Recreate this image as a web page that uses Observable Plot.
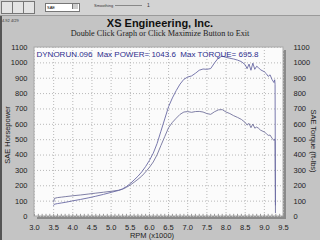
<!DOCTYPE html>
<html>
<head>
<meta charset="utf-8">
<script src="https://cdn.jsdelivr.net/npm/d3@7"></script>
<script src="https://cdn.jsdelivr.net/npm/@observablehq/plot@0.6"></script>
<style>
  html, body { margin:0; padding:0; }
  body { width:320px; height:240px; position:relative; overflow:hidden; background:#c4c4c4;
         font-family:"Liberation Sans", Arial, sans-serif; }
  .abs { position:absolute; white-space:nowrap; }
  #toolbar { left:0; top:0; width:320px; height:15px; background:#d3d3d3; border-bottom:1px solid #9a9a9a; }
  .btn { position:absolute; top:1px; width:10px; height:11px; background:#e4e4e4; border:1px solid #777; }
  #leftedge { left:0; top:16px; width:2px; height:224px; background:#555; }
  #chart { left:0; top:0; }
</style>
</head>
<body>
<div id="toolbar" class="abs">
  <div class="btn" style="left:1px"></div>
  <div class="btn" style="left:12px"></div>
  <div class="btn" style="left:23px"></div>
  <div class="abs" style="left:45px;top:3px;width:32px;height:7px;background:#fff;border:1px solid #777;font-size:4px;line-height:7px;padding-left:1px">SAE</div>
  <div class="abs" style="left:72px;top:4px;width:5px;height:5px;background:#ccc;border-left:1px solid #777"></div>
  <div class="abs" style="left:94px;top:3px;font-size:4px;color:#333">Smoothing</div>
  <div class="abs" style="left:115px;top:5px;width:27px;height:1px;background:#888"></div>
  <div class="abs" style="left:147px;top:2px;font-size:5px;color:#333">1</div>
</div>
<div id="leftedge" class="abs"></div>
<div class="abs" style="left:2px;top:18px;font-size:4px;color:#333">4.92 4/29</div>
<div class="abs" style="left:0;top:17px;width:320px;text-align:center;font-size:11px;font-weight:bold;color:#111">XS Engineering, Inc.</div>
<div class="abs" style="left:0;top:29px;width:320px;text-align:center;font-size:8.2px;font-family:'Liberation Serif','Times New Roman',serif;color:#222">Double Click Graph or Click Maximize Button to Exit</div>
<div id="chart" class="abs"></div>
<div class="abs" style="left:7px;top:135px;transform:translate(-50%,-50%) rotate(-90deg);font-size:7.5px;color:#222">SAE Horsepower</div>
<div class="abs" style="left:313px;top:141px;transform:translate(-50%,-50%) rotate(90deg);font-size:7.5px;color:#222">SAE Torque (ft-lbs)</div>
<div class="abs" style="left:152px;top:235px;transform:translate(-50%,-50%);font-size:7.5px;color:#222">RPM (x1000)</div>
<script>
const rpm = [3.50,3.52,3.60,3.70,3.80,3.90,4.00,4.20,4.40,4.60,4.80,5.00,5.20,5.30,5.40,5.50,5.60,5.70,5.80,5.90,
  6.00,6.10,6.20,6.30,6.40,6.50,6.60,6.70,6.80,6.90,7.00,7.10,7.20,7.30,7.40,7.50,7.60,7.70,7.80,7.90,
  8.00,8.10,8.20,8.30,8.40,8.50,8.55,8.60,8.65,8.70,8.75,8.80,8.85,8.90,9.00,9.05,9.10,9.15,9.20,9.25,9.27,9.28,9.29];
const power = [72,80,84,88,92,97,102,111,121,132,144,157,170,180,195,214,238,262,290,325,
  365,412,475,555,635,715,772,820,862,893,908,915,932,952,960,958,963,1000,1032,1043.6,
  1036,1030,1025,1018,1008,988,962,992,952,998,958,978,968,955,942,930,912,922,892,872,890,860,75];
const torque = [95,118,123,126,129,132,135,140,146,152,158,164,171,178,190,205,223,242,263,290,
  320,355,402,462,520,578,613,640,665,680,683,678,683,684,680,670,665,682,694,695.8,
  680,670,656,645,632,612,595,606,578,602,575,582,574,562,550,540,528,530,510,495,505,488,25];
const xTicks = [3.0,3.5,4.0,4.5,5.0,5.5,6.0,6.5,7.0,7.5,8.0,8.5,9.0,9.5];
const yTicks = [0,100,200,300,400,500,600,700,800,900,1000,1100];
const annotation = "DYNORUN.096  Max POWER= 1043.6  Max TORQUE= 695.8";

const data = rpm.map((r, i) => ({rpm: r, hp: power[i], tq: torque[i]}));
const minor = d3.range(30, 96).map(v => v / 10);
const fmt = d => d.toFixed(1);
const yfmt = d => String(d);

const chart = Plot.plot({
  width: 320, height: 240,
  marginLeft: 34, marginRight: 37, marginTop: 47, marginBottom: 24,
  style: {background: "transparent", fontFamily: "Liberation Sans, Arial, sans-serif", fontSize: "7.5px", color: "#222"},
  x: {domain: [3, 9.5], label: null},
  y: {domain: [0, 1100], label: null},
  marks: [
    Plot.rect([{}], {x1: 3, x2: 9.5, y1: 0, y2: 1100, dx: 3, dy: 3, fill: "#8a8a8a"}),
    Plot.rect([{}], {x1: 3, x2: 9.5, y1: 0, y2: 1100, fill: "#fbfbfb", stroke: "#a8a8a8"}),
    Plot.gridX(xTicks, {stroke: "#b8b8b8", strokeOpacity: 1, strokeDasharray: "1,2"}),
    Plot.gridY(yTicks, {stroke: "#b8b8b8", strokeOpacity: 1, strokeDasharray: "1,2"}),
    Plot.ruleX(minor, {y1: 0, y2: 14, stroke: "#999"}),
    Plot.axisX(xTicks, {tickSize: 0, tickPadding: 8, tickFormat: fmt, label: null}),
    Plot.axisY(yTicks, {anchor: "left", tickSize: 0, tickPadding: 7, tickFormat: yfmt, label: null}),
    Plot.axisY(yTicks, {anchor: "right", tickSize: 0, tickPadding: 10, tickFormat: yfmt, label: null}),
    Plot.line(data, {x: "rpm", y: "tq", stroke: "#72729c", strokeWidth: 0.9}),
    Plot.line(data, {x: "rpm", y: "hp", stroke: "#6a6aa4", strokeWidth: 0.9}),
    Plot.text([annotation], {text: d => d, frameAnchor: "top-left", dx: 2, dy: 4, textAnchor: "start",
      fill: "#2c2c8c", fontSize: 8})
  ]
});
document.getElementById("chart").appendChild(chart);
</script>
</body>
</html>
